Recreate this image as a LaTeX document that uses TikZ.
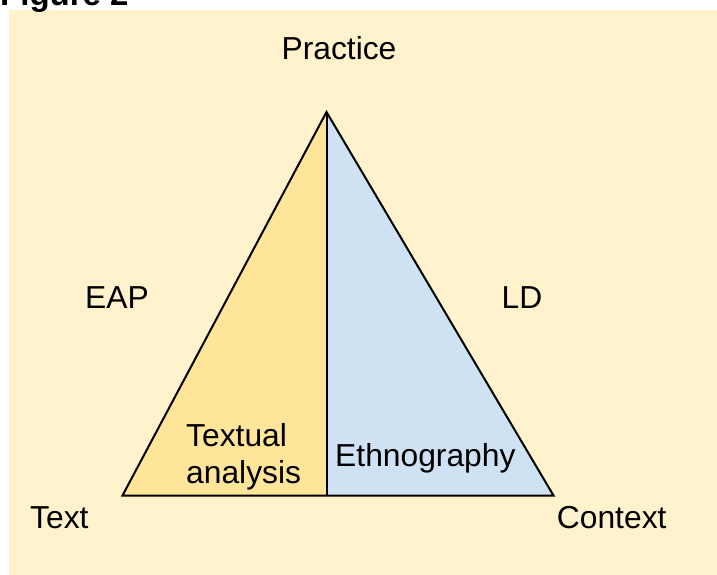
\documentclass[tikz,border=0pt]{standalone}
\usepackage{fontspec}
\setmainfont{Liberation Sans}
\definecolor{bgcol}{HTML}{FFF2CC}
\definecolor{leftcol}{HTML}{FFE599}
\definecolor{rightcol}{HTML}{CFE2F3}
\begin{document}
\begin{tikzpicture}[x=1pt,y=-1pt,
  lbl/.style={inner sep=0pt, font=\fontsize{31.8}{37}\selectfont, anchor=base},
  edge/.style={draw=black, line width=2pt, line join=miter}]
\useasboundingbox (0,0) rectangle (717,575);
\fill[bgcol] (9,10) rectangle (717,575);
\node[inner sep=0pt, anchor=base west, font=\fontsize{33}{38}\selectfont\bfseries] (fig) at (0,6) {Figure 2};
\coordinate (apex) at (326.5,112);
\coordinate (bl) at (122.5,495.5);
\coordinate (br) at (553.5,495.5);
\coordinate (bm) at (326.5,495.5);
\fill[leftcol] (apex) -- (bl) -- (bm) -- cycle;
\fill[rightcol] (apex) -- (bm) -- (br) -- cycle;
\draw[edge] (apex) -- (bl) -- (br) -- cycle;
\draw[edge] (apex) -- (bm);
\node[lbl] (practice) at (339,59.5) {Practice};
\node[lbl] (eap) at (117,308.3) {EAP};
\node[lbl] (ld) at (522,308.3) {LD};
\node[lbl] (text) at (59.3,528.3) {Text};
\node[lbl] (context) at (611.7,528.3) {Context};
\node[lbl, anchor=base west] (textual) at (186,446.7) {Textual};
\node[lbl, anchor=base west] (analysis) at (186,483.7) {analysis};
\node[lbl, anchor=base west] (ethno) at (335,466.7) {Ethnography};
\end{tikzpicture}
\end{document}
